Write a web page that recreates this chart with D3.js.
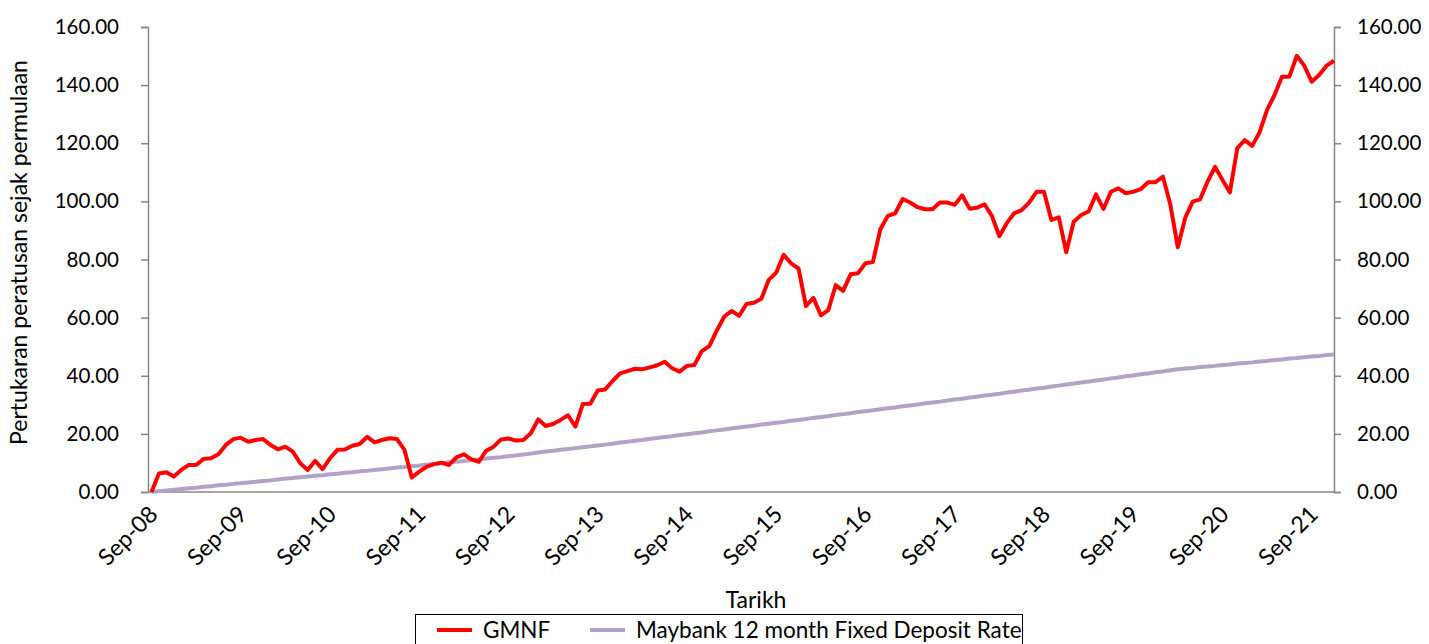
<!DOCTYPE html>
<html>
<head>
<meta charset="utf-8">
<script src="https://cdn.jsdelivr.net/npm/d3@7"></script>
<style>
  body { margin: 0; background: #fff; }
  text { font-family: Lato, "Open Sans", sans-serif; fill: #000; }
</style>
</head>
<body>
<div id="chart"></div>
<script>
// monthly series, Sep-08 .. Dec-21
var gmnf = [
  0.0, 6.4, 6.8, 5.3, 7.6, 9.3, 9.3, 11.4, 11.6, 13.0, 16.2, 18.2,
  18.7, 17.3, 17.9, 18.2, 16.2, 14.7, 15.6, 13.9, 9.9, 7.6, 10.7, 7.9,
  11.6, 14.5, 14.6, 15.9, 16.5, 19.0, 17.1, 17.9, 18.5, 18.2, 14.6, 5.0,
  7.0, 8.7, 9.6, 10.1, 9.3, 11.9, 13.0, 11.2, 10.4, 14.2, 15.6, 18.1,
  18.4, 17.7, 17.9, 20.2, 25.0, 22.7, 23.4, 24.8, 26.4, 22.5, 30.3, 30.4,
  34.9, 35.3, 38.2, 40.8, 41.6, 42.4, 42.2, 42.9, 43.6, 44.8, 42.6, 41.4,
  43.4, 43.7, 48.5, 50.2, 55.5, 60.3, 62.3, 60.6, 64.7, 65.1, 66.5, 73.0,
  75.5, 81.6, 78.7, 76.9, 64.0, 66.8, 60.8, 62.6, 71.2, 69.2, 74.9, 75.3,
  78.7, 79.1, 90.4, 95.0, 95.9, 100.8, 99.6, 98.0, 97.3, 97.3, 99.6, 99.6,
  98.8, 102.1, 97.5, 97.8, 99.0, 95.0, 88.0, 92.5, 95.9, 97.0, 99.6, 103.3,
  103.3, 93.6, 94.5, 82.5, 93.0, 95.3, 96.5, 102.4, 97.4, 103.3, 104.5, 102.8,
  103.3, 104.2, 106.6, 106.6, 108.5, 98.8, 84.2, 94.4, 99.9, 100.7, 106.8, 111.9,
  107.4, 103.1, 118.3, 121.1, 119.1, 123.8, 131.5, 136.6, 142.9, 142.9, 150.1, 146.7,
  141.2, 143.5, 146.7, 148.4
];

var fdRate = [
  0.0, 0.3, 0.5, 0.8, 1.0, 1.3, 1.5, 1.8, 2.0, 2.3, 2.5, 2.8,
  3.0, 3.3, 3.5, 3.8, 4.0, 4.3, 4.6, 4.8, 5.1, 5.3, 5.6, 5.8,
  6.1, 6.3, 6.6, 6.8, 7.1, 7.3, 7.6, 7.8, 8.1, 8.4, 8.6, 8.9,
  9.1, 9.4, 9.6, 9.9, 10.2, 10.4, 10.7, 11.0, 11.2, 11.5, 11.8, 12.0,
  12.3, 12.6, 12.9, 13.2, 13.6, 13.9, 14.2, 14.5, 14.8, 15.1, 15.4, 15.7,
  16.0, 16.3, 16.6, 17.0, 17.3, 17.6, 17.9, 18.3, 18.6, 18.9, 19.2, 19.6,
  19.9, 20.2, 20.5, 20.9, 21.2, 21.5, 21.9, 22.2, 22.5, 22.8, 23.2, 23.5,
  23.8, 24.1, 24.5, 24.8, 25.1, 25.5, 25.8, 26.1, 26.5, 26.8, 27.1, 27.5,
  27.8, 28.1, 28.5, 28.8, 29.1, 29.5, 29.8, 30.1, 30.5, 30.8, 31.1, 31.5,
  31.8, 32.1, 32.5, 32.8, 33.2, 33.5, 33.8, 34.2, 34.5, 34.9, 35.2, 35.6,
  35.9, 36.3, 36.6, 37.0, 37.3, 37.7, 38.0, 38.4, 38.7, 39.1, 39.4, 39.8,
  40.1, 40.5, 40.8, 41.2, 41.5, 41.9, 42.2, 42.5, 42.7, 43.0, 43.2, 43.4,
  43.7, 43.9, 44.2, 44.4, 44.6, 44.9, 45.1, 45.4, 45.6, 45.9, 46.1, 46.4,
  46.6, 46.8, 47.1, 47.3
];

var xTickLabels = ["Sep-08", "Sep-09", "Sep-10", "Sep-11", "Sep-12", "Sep-13", "Sep-14",
  "Sep-15", "Sep-16", "Sep-17", "Sep-18", "Sep-19", "Sep-20", "Sep-21"];
var yTicks = [0, 20, 40, 60, 80, 100, 120, 140, 160];

var seriesNames = ["GMNF", "Maybank 12 month Fixed Deposit Rate"];
var seriesColors = ["#ff0000", "#b3a2c7"];

var W = 1429, H = 644;
var margin = {top: 27, right: 95, bottom: 152, left: 148};
var width = W - margin.left - margin.right,
    height = H - margin.top - margin.bottom;

var svg = d3.select("#chart").append("svg")
  .attr("width", W)
  .attr("height", H);

var g = svg.append("g")
  .attr("transform", "translate(" + margin.left + "," + margin.top + ")");

var x = d3.scaleLinear()
  .domain([0, gmnf.length - 1])
  .range([3.5, width]);

var y = d3.scaleLinear()
  .domain([0, 160])
  .range([height, 0]);

var fmt = d3.format(".2f");
var axisColor = "#868686";

// left axis
var yLeft = g.append("g")
  .call(d3.axisLeft(y).tickValues(yTicks).tickFormat(fmt).tickSizeOuter(0).tickSize(7).tickPadding(22));
// right axis
var yRight = g.append("g")
  .attr("transform", "translate(" + width + ",0)")
  .call(d3.axisRight(y).tickValues(yTicks).tickFormat(fmt).tickSizeOuter(0).tickSize(7).tickPadding(16));

[yLeft, yRight].forEach(function(a) {
  a.select(".domain").attr("stroke", axisColor).attr("stroke-width", 1.5);
  a.selectAll(".tick line").attr("stroke", axisColor).attr("stroke-width", 1.5);
  a.selectAll(".tick text")
    .style("font-family", "Lato, sans-serif")
    .style("font-size", "20.5px")
    .attr("fill", "#000");
});

// bottom axis line
g.append("line")
  .attr("x1", 0).attr("x2", width)
  .attr("y1", height).attr("y2", height)
  .attr("stroke", axisColor)
  .attr("stroke-width", 1.5);

// x tick labels
g.selectAll(".xlab")
  .data(xTickLabels)
  .enter()
  .append("text")
    .attr("class", "xlab")
    .attr("transform", function(d, i) {
      return "translate(" + (x(i * 12) + 2) + "," + (height + 18) + ")rotate(-45)";
    })
    .attr("text-anchor", "end")
    .attr("dy", "0.35em")
    .style("font-size", "23px")
    .text(function(d) { return d; });

// lines
var line = d3.line()
  .x(function(d, i) { return x(i); })
  .y(function(d) { return y(d); });

g.append("path")
  .datum(fdRate)
  .attr("fill", "none")
  .attr("stroke", seriesColors[1])
  .attr("stroke-width", 4)
  .attr("stroke-linejoin", "round")
  .attr("d", line);

g.append("path")
  .datum(gmnf)
  .attr("fill", "none")
  .attr("stroke", seriesColors[0])
  .attr("stroke-width", 4)
  .attr("stroke-linejoin", "round")
  .attr("d", line);

// axis titles
svg.append("text")
  .attr("transform", "translate(27," + (margin.top + height / 2 - 7) + ")rotate(-90)")
  .attr("text-anchor", "middle")
  .style("font-size", "23px")
  .text("Pertukaran peratusan sejak permulaan");

svg.append("text")
  .attr("x", 756)
  .attr("y", 608)
  .attr("text-anchor", "middle")
  .style("font-size", "23px")
  .text("Tarikh");

// legend
var legend = svg.append("g").attr("transform", "translate(415,614)");
legend.append("rect")
  .attr("x", 0.5).attr("y", 0.5)
  .attr("width", 607).attr("height", 40)
  .attr("fill", "#fff")
  .attr("stroke", "#000")
  .attr("stroke-width", 1);

var legendX = [22, 175];
seriesNames.forEach(function(name, i) {
  legend.append("line")
    .attr("x1", legendX[i]).attr("x2", legendX[i] + 35)
    .attr("y1", 16).attr("y2", 16)
    .attr("stroke", seriesColors[i])
    .attr("stroke-width", 4);
  legend.append("text")
    .attr("x", legendX[i] + 46)
    .attr("y", 24)
    .style("font-size", "22.5px")
    .text(name);
});
</script>
</body>
</html>
